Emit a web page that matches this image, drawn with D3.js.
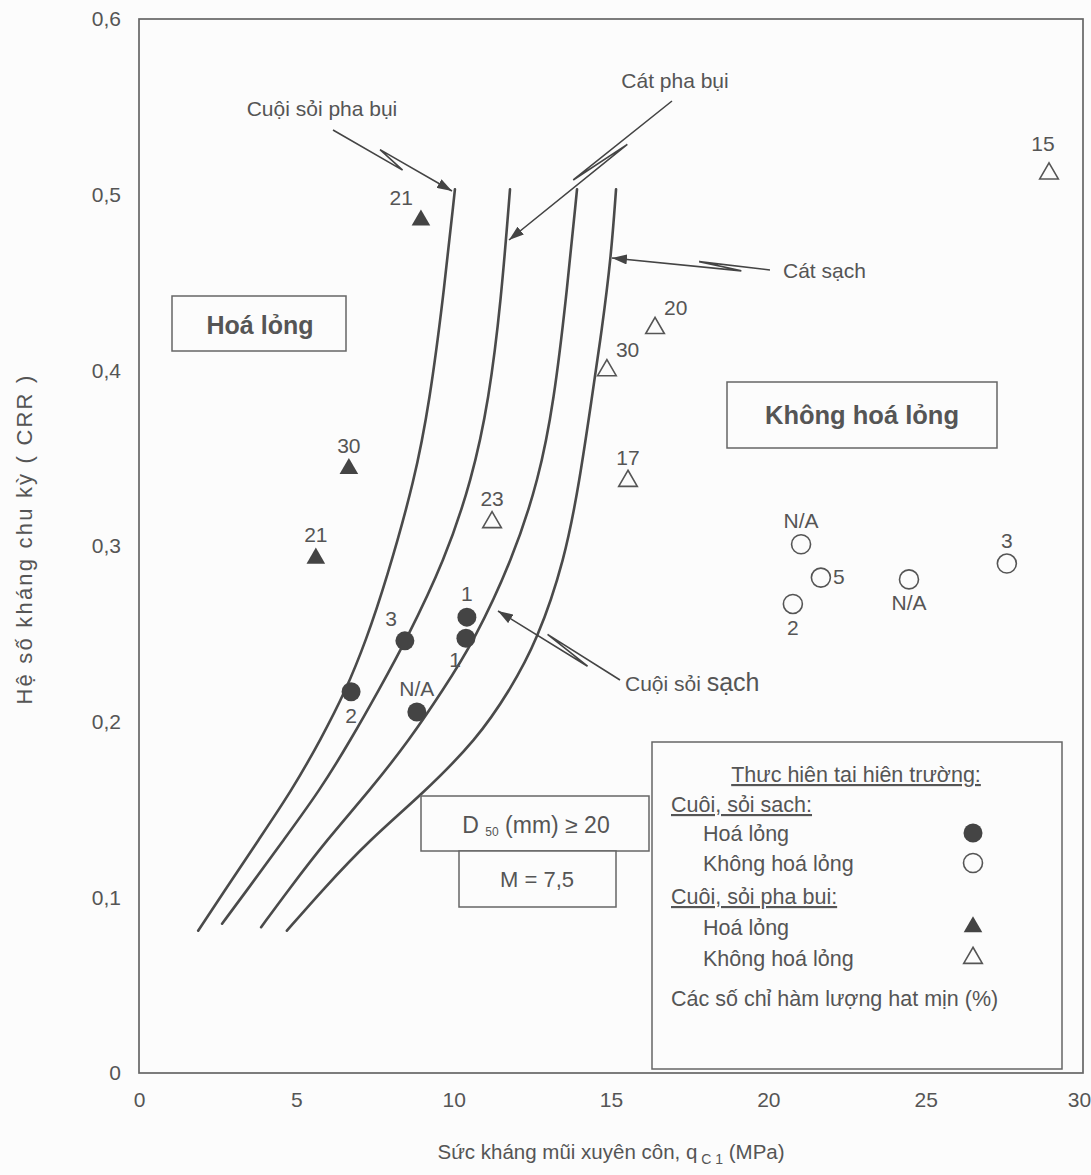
<!DOCTYPE html>
<html>
<head>
<meta charset="utf-8">
<script src="https://cdn.jsdelivr.net/npm/d3@7/dist/d3.min.js"></script>
<style>
  body { margin: 0; background: #fcfcfc; }
  text { font-family: "Liberation Sans", Arial, sans-serif; fill: #555; }
</style>
</head>
<body>
<svg id="chart" width="1091" height="1175"></svg>
<script>
// ---- data (q_c1 in MPa, CRR) ----
const xTicks = [0, 5, 10, 15, 20, 25, 30];
const yTicks = [0, 0.1, 0.2, 0.3, 0.4, 0.5, 0.6];

// boundary curves, top to bottom
const curveSiltyGravel = [[10.04,0.503],[9.66,0.44],[9.24,0.383],[8.77,0.338],[7.85,0.28],[7.21,0.246],[6.58,0.218],[5.78,0.19],[4.86,0.161],[3.81,0.133],[2.73,0.104],[1.88,0.081]];
const curveSiltySand   = [[11.79,0.503],[11.51,0.44],[11.12,0.383],[10.58,0.338],[9.72,0.292],[8.48,0.246],[7.62,0.218],[6.74,0.19],[5.75,0.161],[4.61,0.133],[3.43,0.104],[2.64,0.085]];
const curveCleanGravel = [[13.92,0.503],[13.57,0.44],[13.19,0.383],[12.71,0.338],[11.86,0.292],[10.65,0.246],[9.66,0.218],[8.61,0.19],[7.34,0.161],[5.98,0.133],[4.74,0.104],[3.88,0.083]];
const curveCleanSand   = [[15.16,0.503],[15.0,0.464],[14.71,0.423],[14.38,0.383],[14.01,0.338],[13.53,0.292],[12.65,0.246],[11.79,0.218],[10.74,0.19],[9.02,0.159],[7.34,0.133],[5.82,0.104],[4.70,0.081]];

// field cases: [q_c1, CRR, fines content label, label side]
const cleanLiq = [[6.74,0.217,"2","below"],[8.45,0.246,"3","aboveLeft"],[8.83,0.2055,"N/A","above"],[10.42,0.2595,"1","above"],[10.39,0.2475,"1","belowLeft"]];
const cleanNonLiq = [[21.04,0.301,"N/A","above"],[21.67,0.282,"5","right"],[20.78,0.267,"2","below"],[24.47,0.281,"N/A","below"],[27.58,0.290,"3","above"]];
const siltyLiq = [[8.96,0.4855,"21","aboveLeft"],[6.67,0.344,"30","above"],[5.62,0.293,"21","above"]];
const siltyNonLiq = [[28.92,0.512,"15","aboveLeftHigh"],[16.40,0.424,"20","aboveRight"],[14.87,0.400,"30","aboveRight"],[15.54,0.337,"17","above"],[11.22,0.3135,"23","above"]];

const legendRows = ["Thưc hiên tai hiên trường:","Cuôi, sỏi sach:","Hoá lỏng","Không hoá lỏng","Cuôi, sỏi pha bui:","Hoá lỏng","Không hoá lỏng","Các số chỉ hàm lượng hat mịn (%)"];

// ---- setup ----
const svg = d3.select("#chart");
const ink = "#555", dark = "#444";
const x = d3.scaleLinear().domain([0, 30]).range([139, 1083]);
const y = d3.scaleLinear().domain([0, 0.6]).range([1073, 19]);

svg.append("defs").append("marker")
  .attr("id", "arrow").attr("markerUnits", "userSpaceOnUse")
  .attr("markerWidth", 16).attr("markerHeight", 10)
  .attr("refX", 15).attr("refY", 5).attr("orient", "auto")
  .append("path").attr("d", "M0,0 L15,5 L0,10 z").attr("fill", dark);

// frame
svg.append("rect")
  .attr("x", x(0)).attr("y", y(0.6))
  .attr("width", x(30) - x(0)).attr("height", y(0) - y(0.6))
  .attr("fill", "none").attr("stroke", "#666").attr("stroke-width", 1.7);

const fmt = d => String(d).replace(".", ",");
const gx = svg.append("g").attr("transform", `translate(0,${y(0)})`)
  .call(d3.axisBottom(x).tickValues(xTicks).tickSize(0).tickPadding(19).tickFormat(fmt));
const gy = svg.append("g").attr("transform", `translate(${x(0)},0)`)
  .call(d3.axisLeft(y).tickValues(yTicks).tickSize(0).tickPadding(18).tickFormat(fmt));
[gx, gy].forEach(g => {
  g.select(".domain").remove();
  g.attr("font-size", null).attr("font-family", null);
  g.selectAll("text").attr("fill", ink).style("font-size", "21px");
});
gx.selectAll("text").filter(d => d === 30).attr("dx", -4);

svg.append("text")
  .attr("transform", "translate(32,539) rotate(-90)")
  .attr("text-anchor", "middle").style("font-size", "22px").style("letter-spacing", "2.2px")
  .text("Hệ số kháng chu kỳ ( CRR )");

const xt = svg.append("text").attr("x", 611).attr("y", 1159)
  .attr("text-anchor", "middle").style("font-size", "20.5px");
xt.append("tspan").text("Sức kháng mũi xuyên côn, q");
xt.append("tspan").attr("dy", 5).style("font-size", "14px").text(" C 1");
xt.append("tspan").attr("dy", -5).text(" (MPa)");

// boundary curves
const line = d3.line().x(d => x(d[0])).y(d => y(d[1])).curve(d3.curveBasis);
svg.append("g").selectAll("path")
  .data([curveSiltyGravel, curveSiltySand, curveCleanGravel, curveCleanSand])
  .join("path")
  .attr("d", line).attr("fill", "none")
  .attr("stroke", "#4a4a4a").attr("stroke-width", 2.6).attr("stroke-linecap", "round");

// labelled leaders with a break mark
function leader(S, E, ta, tb, w) {
  const dx = E[0] - S[0], dy = E[1] - S[1], L = Math.hypot(dx, dy);
  const nx = -dy / L, ny = dx / L;
  const A = [S[0] + dx * ta + nx * w, S[1] + dy * ta + ny * w];
  const B = [S[0] + dx * tb - nx * w, S[1] + dy * tb - ny * w];
  svg.append("path").attr("d", d3.line()([S, A, B, E]))
    .attr("fill", "none").attr("stroke", dark).attr("stroke-width", 1.6)
    .attr("stroke-linejoin", "miter").attr("marker-end", "url(#arrow)");
}
leader([333, 130], [452, 191], 0.6, 0.38, 4);
leader([672, 101], [509, 240], 0.59, 0.29, 4);
leader([770, 270], [612, 258], 0.45, 0.18, 3);
leader([620, 680], [498, 611], 0.61, 0.25, 4);

svg.append("text").attr("x", 322).attr("y", 116).attr("text-anchor", "middle")
  .style("font-size", "21px").text("Cuội sỏi pha bụi");
svg.append("text").attr("x", 675).attr("y", 88).attr("text-anchor", "middle")
  .style("font-size", "21px").text("Cát pha bụi");
svg.append("text").attr("x", 783).attr("y", 278)
  .style("font-size", "21px").text("Cát sạch");
const cs = svg.append("text").attr("x", 625).attr("y", 691).style("font-size", "21px");
cs.append("tspan").text("Cuội sỏi ");
cs.append("tspan").style("font-size", "25px").text("sạch");

// boxed notes
function box(x0, y0, x1, y1) {
  svg.append("rect").attr("x", x0).attr("y", y0)
    .attr("width", x1 - x0).attr("height", y1 - y0)
    .attr("fill", "#fcfcfc").attr("stroke", "#666").attr("stroke-width", 1.5);
}
box(172, 296, 346, 351);
svg.append("text").attr("x", 260).attr("y", 334).attr("text-anchor", "middle")
  .style("font-size", "25px").style("font-weight", "bold").attr("fill", "#4a4a4a").text("Hoá lỏng");
box(727, 382, 997, 448);
svg.append("text").attr("x", 862).attr("y", 424).attr("text-anchor", "middle")
  .style("font-size", "25.5px").style("font-weight", "bold").attr("fill", "#4a4a4a").text("Không hoá lỏng");
box(421, 796, 649, 851);
const dt = svg.append("text").attr("x", 536).attr("y", 833).attr("text-anchor", "middle").style("font-size", "23px");
dt.append("tspan").text("D ");
dt.append("tspan").attr("dy", 3).style("font-size", "12px").text("50");
dt.append("tspan").attr("dy", -3).text(" (mm) ≥ 20");
box(459, 851, 616, 907);
svg.append("text").attr("x", 537).attr("y", 887).attr("text-anchor", "middle")
  .style("font-size", "22px").text("M = 7,5");

// markers
const tri = d3.symbol(d3.symbolTriangle, 150);
const offs = {
  above: [0, -16, "middle"], below: [0, 31, "middle"], right: [12, 6, "start"],
  aboveLeft: [-8, -15, "end"], belowLeft: [-5, 29, "end"], aboveRight: [9, -13, "start"],
  aboveLeftHigh: [-6, -23, "middle"]
};
function labels(data) {
  svg.append("g").selectAll("text").data(data).join("text")
    .attr("x", d => x(d[0]) + offs[d[3]][0])
    .attr("y", d => y(d[1]) + offs[d[3]][1])
    .attr("text-anchor", d => offs[d[3]][2])
    .style("font-size", "21px").text(d => d[2]);
}
svg.append("g").selectAll("circle").data(cleanLiq).join("circle")
  .attr("cx", d => x(d[0])).attr("cy", d => y(d[1])).attr("r", 9.5).attr("fill", dark);
svg.append("g").selectAll("circle").data(cleanNonLiq).join("circle")
  .attr("cx", d => x(d[0])).attr("cy", d => y(d[1])).attr("r", 9.5)
  .attr("fill", "none").attr("stroke", ink).attr("stroke-width", 1.6);
svg.append("g").selectAll("path").data(siltyLiq).join("path")
  .attr("transform", d => `translate(${x(d[0])},${y(d[1])})`).attr("d", tri).attr("fill", dark);
svg.append("g").selectAll("path").data(siltyNonLiq).join("path")
  .attr("transform", d => `translate(${x(d[0])},${y(d[1])})`).attr("d", tri)
  .attr("fill", "none").attr("stroke", ink).attr("stroke-width", 1.6);
[cleanLiq, cleanNonLiq, siltyLiq, siltyNonLiq].forEach(labels);

// legend
box(652, 742, 1062, 1069);
const lg = svg.append("g").style("font-size", "21.5px");
const rowX = [856, 671, 703, 703, 671, 703, 703, 671];
const rowY = [782, 812, 841, 871, 904, 935, 966, 1006];
const underlined = [true, true, false, false, true, false, false, false];
lg.selectAll("text").data(legendRows).join("text")
  .attr("x", (d, i) => rowX[i]).attr("y", (d, i) => rowY[i])
  .attr("text-anchor", (d, i) => i === 0 ? "middle" : "start")
  .style("text-decoration", (d, i) => underlined[i] ? "underline" : "none")
  .text(d => d);
lg.append("circle").attr("cx", 973).attr("cy", 833).attr("r", 9.5).attr("fill", dark);
lg.append("circle").attr("cx", 973).attr("cy", 863).attr("r", 9.5)
  .attr("fill", "none").attr("stroke", ink).attr("stroke-width", 1.6);
lg.append("path").attr("transform", "translate(973,927)").attr("d", tri).attr("fill", dark);
lg.append("path").attr("transform", "translate(973,958)").attr("d", tri)
  .attr("fill", "none").attr("stroke", ink).attr("stroke-width", 1.6);
</script>
</body>
</html>
